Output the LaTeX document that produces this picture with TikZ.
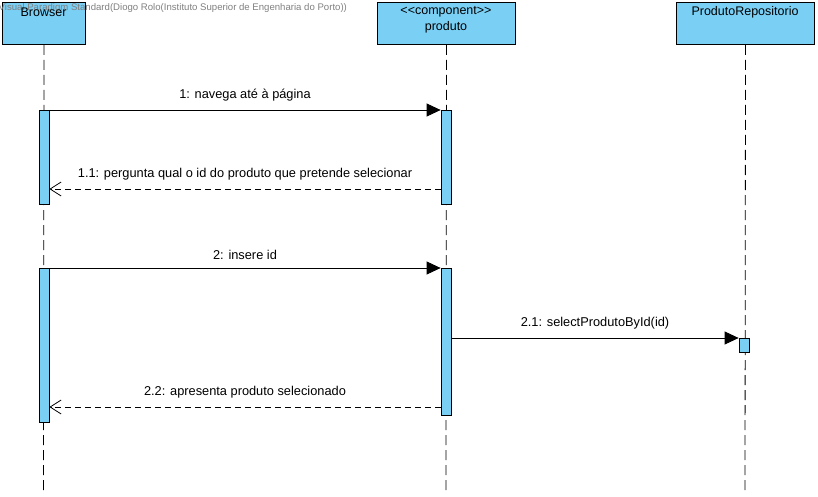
\documentclass[tikz,border=0pt]{standalone}
\usepackage{fontspec}
\setmainfont{Liberation Sans}
\usetikzlibrary{arrows.meta}

\definecolor{vpblue}{RGB}{122,207,245}
\tikzset{
  headbox/.style={draw, fill=vpblue, line width=1pt, minimum height=42pt, inner sep=0pt, anchor=north west},
  headtext/.style={inner sep=0pt, font=\fontsize{12.5}{14}\selectfont},
  actbar/.style={draw, fill=vpblue, line width=0.8pt, minimum width=10pt, inner sep=0pt, anchor=north},
  lifeline/.style={dash pattern=on 10pt off 5pt, line width=0.8pt},
  msg/.style={line width=0.8pt, -{Triangle[length=14pt,width=13pt]}},
  reply/.style={line width=0.8pt, dash pattern=on 6pt off 4pt, -{Straight Barb[length=11pt,width=14pt]}},
  msglabel/.style={midway, above=8pt, inner sep=0pt, font=\fontsize{12.8}{14}\selectfont},
}

\begin{document}
\begin{tikzpicture}[x=1pt, y=-1pt]
  \useasboundingbox (0,0) rectangle (818,497);
  % participants
  \node[headbox, minimum width=83pt] (browser) at (2,2) {};
  \node[headbox, minimum width=138pt] (produto) at (377,2) {};
  \node[headbox, minimum width=138pt] (repo) at (676,2) {};
  \node[font=\fontsize{9.6}{10}\selectfont, text=gray, anchor=west, inner sep=0pt] (mark) at (-1.5,8)
    {Visual Paradigm Standard(Diogo Rolo(Instituto Superior de Engenharia do Porto))};
  \node[headtext] at (43.5,12) {Browser};
  \node[headtext] at (446,12) {{<}{<}component{>}{>}};
  \node[headtext] at (446,27) {produto};
  \node[headtext] at (745,12) {ProdutoRepositorio};
  % lifelines
  \coordinate (bend) at (43.5,490);
  \coordinate (pend) at (446,490);
  \coordinate (rend) at (745,490);
  \draw[lifeline] (browser.south) -- (bend);
  \draw[lifeline] (produto.south) -- (pend);
  \draw[lifeline] (repo.south) -- (rend);
  % activations
  \node[actbar, minimum height=94pt] (bact1) at (44,110) {};
  \node[actbar, minimum height=94pt] (pact1) at (446,110) {};
  \node[actbar, minimum height=154pt] (bact2) at (44,268) {};
  \node[actbar, minimum height=147pt] (pact2) at (446,268) {};
  \node[actbar, minimum height=14pt] (ract1) at (744,338) {};
  % messages
  \coordinate (y11) at (0,189);
  \coordinate (y22) at (0,407);
  \draw[msg] (bact1.north east) -- node[msglabel] {1: navega até à página} (pact1.north west);
  \draw[reply] (pact1.west |- y11) -- node[msglabel] {1.1: pergunta qual o id do produto que pretende selecionar} (bact1.east |- y11);
  \draw[msg] (bact2.north east) -- node[msglabel] {2: insere id} (pact2.north west);
  \draw[msg] (pact2.east |- ract1.north) -- node[msglabel] {2.1: selectProdutoById(id)} (ract1.north west);
  \draw[reply] (pact2.west |- y22) -- node[msglabel] {2.2: apresenta produto selecionado} (bact2.east |- y22);
\end{tikzpicture}
\end{document}
